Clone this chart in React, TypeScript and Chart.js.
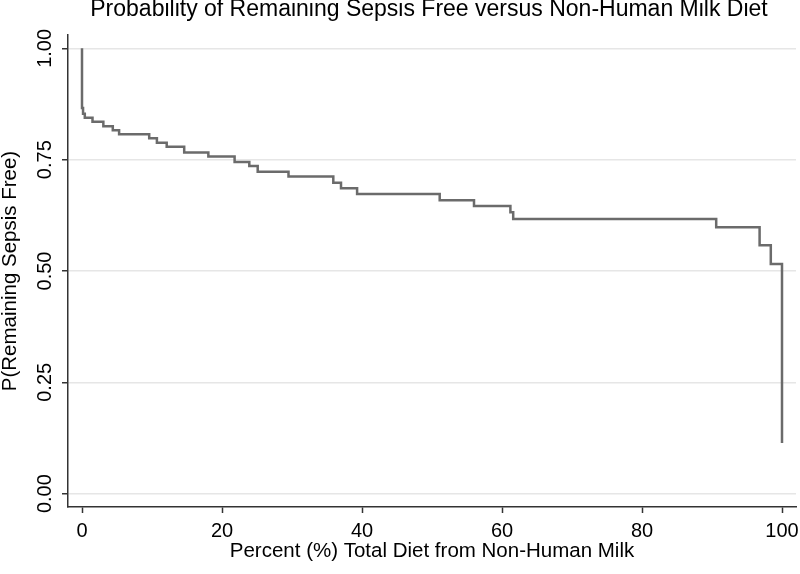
import React, { useEffect, useRef } from "react";
import { Chart, registerables } from "chart.js";

Chart.register(...registerables);

const titleText = "Probability of Remaining Sepsis Free versus Non-Human Milk Diet";
const xTitle = "Percent (%) Total Diet from Non-Human Milk";
const yTitle = "P(Remaining Sepsis Free)";

// Kaplan-Meier style step points: percent of diet from non-human milk
const percentDiet = [0, 0, 0.15, 0.4, 1.5, 3.05, 4.4, 5.3, 9.6, 10.7, 12.1, 14.6, 18.05, 21.8, 23.9, 25.1, 29.5, 35.9, 37.0, 39.3, 51.1, 56.0, 61.2, 61.6, 90.6, 96.8, 98.4, 100];
// probability of remaining sepsis free
const survival = [1.0, 0.866, 0.853, 0.844, 0.835, 0.825, 0.816, 0.807, 0.798, 0.788, 0.779, 0.766, 0.757, 0.745, 0.736, 0.723, 0.712, 0.698, 0.686, 0.673, 0.659, 0.646, 0.632, 0.617, 0.598, 0.558, 0.516, 0.114];

const xTicks = [0, 20, 40, 60, 80, 100];
const yTicks = [0, 0.25, 0.5, 0.75, 1.0];
const yTickLabels = ["0.00", "0.25", "0.50", "0.75", "1.00"];

const FONT = "'Liberation Sans', Arial, Helvetica, sans-serif";

const customText = {
  id: "customText",
  afterDraw(chart: any) {
    const scale = chart.scales.y;
    const ctx = chart.ctx;
    const area = chart.chartArea;
    ctx.save();
    ctx.fillStyle = "#000";
    // title centred over the plot region
    ctx.font = `23px ${FONT}`;
    ctx.textAlign = "center";
    ctx.textBaseline = "middle";
    ctx.fillText(titleText, (area.left + area.right) / 2 - 3, 10);
    // rotated y tick labels
    ctx.font = `20px ${FONT}`;
    yTicks.forEach((v, i) => {
      const y = scale.getPixelForValue(v);
      ctx.save();
      ctx.translate(45, y);
      ctx.rotate(-Math.PI / 2);
      ctx.fillText(yTickLabels[i], 0, 0);
      ctx.restore();
    });
    ctx.restore();
  },
};

export default function App() {
  const ref = useRef<HTMLCanvasElement>(null);

  useEffect(() => {
    if (!ref.current) return;
    const chart = new Chart(ref.current, {
      type: "scatter",
      data: {
        datasets: [
          {
            data: percentDiet.map((x, i) => ({ x, y: survival[i] })),
            showLine: true,
            stepped: "before",
            borderColor: "#6b6b6b",
            borderWidth: 2.5,
            pointRadius: 0,
            fill: false,
          },
        ],
      },
      options: {
        animation: false,
        responsive: false,
        maintainAspectRatio: false,
        layout: { padding: { left: 0, right: 4, top: 35, bottom: 0 } },
        plugins: {
          legend: { display: false },
          tooltip: { enabled: false },
          title: { display: false },
        },
        scales: {
          x: {
            type: "linear",
            min: -2,
            max: 102,
            afterBuildTicks: (scale: any) => {
              scale.ticks = xTicks.map((v) => ({ value: v }));
            },
            afterFit: (scale: any) => {
              scale.height = 67;
              scale.paddingLeft = 0;
              scale.paddingRight = 0;
            },
            grid: {
              drawOnChartArea: false,
              drawTicks: true,
              tickLength: 6,
              tickColor: "#333",
              tickWidth: 1.5,
            },
            border: { display: true, color: "#333", width: 1.5 },
            ticks: {
              color: "#000",
              font: { family: FONT, size: 20 },
              padding: 6,
              maxRotation: 0,
              callback: (v: any) => String(v),
            },
            title: {
              display: true,
              text: xTitle,
              color: "#000",
              font: { family: FONT, size: 20.5 },
              padding: { top: 0, bottom: 10.7 },
            },
          },
          y: {
            type: "linear",
            min: -0.03,
            max: 1.03,
            afterBuildTicks: (scale: any) => {
              scale.ticks = yTicks.map((v) => ({ value: v }));
            },
            afterFit: (scale: any) => {
              scale.width = 68;
              scale.paddingTop = 0;
              scale.paddingBottom = 0;
            },
            grid: {
              drawOnChartArea: true,
              color: "#e6e6e6",
              lineWidth: 1.5,
              drawTicks: true,
              tickLength: 6,
              tickColor: "#333",
              tickWidth: 1.5,
            },
            border: { display: true, color: "#333", width: 1.5 },
            ticks: {
              display: true,
              color: "rgba(0,0,0,0)",
              font: { family: FONT, size: 20 },
              callback: () => "",
            },
            title: {
              display: true,
              text: yTitle,
              color: "#000",
              font: { family: FONT, size: 20.5 },
              padding: { top: -1.8, bottom: 0 },
            },
          },
        },
      },
      plugins: [customText],
    });
    return () => chart.destroy();
  }, []);

  return (
    <div style={{ position: "fixed", left: 0, top: 0, width: 800, height: 574, background: "#fff" }}>
      <canvas ref={ref} width={800} height={574} style={{ width: 800, height: 574, display: "block" }} />
    </div>
  );
}
